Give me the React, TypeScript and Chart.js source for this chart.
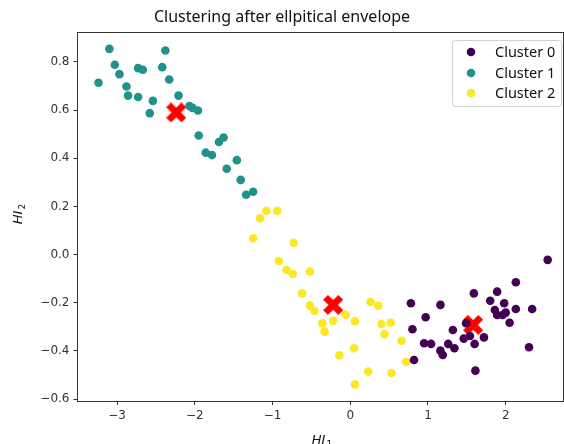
import React, { useEffect, useRef } from 'react';
import { Chart, registerables } from 'chart.js';
Chart.register(...registerables);

const TITLE = 'Clustering after ellpitical envelope';
const SERIES_NAMES = ['Cluster 0', 'Cluster 1', 'Cluster 2'];
const COLORS = ['#440154', '#21918c', '#fde725'];

const cluster0X = [2.54, 2.13, 1.59, 1.89, 1.80, 1.98, 0.78, 1.16, 1.86, 2.13, 2.34, 1.89, 2.00, 1.96, 2.05, 0.97, 0.80, 1.32, 0.95, 1.04, 1.16, 1.19, 1.26, 1.34, 1.46, 1.54, 1.60, 1.72, 1.49, 2.30, 0.82, 1.61];
const cluster0Y = [-0.022, -0.115, -0.161, -0.154, -0.192, -0.202, -0.202, -0.209, -0.230, -0.226, -0.226, -0.251, -0.241, -0.251, -0.283, -0.260, -0.310, -0.313, -0.368, -0.371, -0.399, -0.417, -0.371, -0.389, -0.349, -0.338, -0.371, -0.344, -0.285, -0.385, -0.438, -0.482];

const cluster1X = [-3.10, -3.03, -2.97, -3.24, -2.88, -2.86, -2.73, -2.73, -2.67, -2.38, -2.42, -2.33, -2.54, -2.58, -2.21, -2.07, -1.96, -2.03, -1.95, -1.63, -1.69, -1.86, -1.78, -1.46, -1.59, -1.41, -1.25, -1.34];
const cluster1Y = [0.854, 0.788, 0.749, 0.713, 0.698, 0.660, 0.654, 0.774, 0.767, 0.847, 0.778, 0.727, 0.638, 0.587, 0.660, 0.617, 0.598, 0.609, 0.494, 0.486, 0.467, 0.423, 0.413, 0.392, 0.356, 0.310, 0.261, 0.248];

const cluster2X = [-1.08, -0.94, -1.16, -1.25, -0.73, -0.92, -0.82, -0.74, -0.52, -0.62, -0.52, -0.46, -0.36, -0.33, -0.22, -0.06, 0.06, 0.26, 0.36, 0.40, 0.52, 0.44, 0.66, 0.05, -0.14, 0.72, 0.23, 0.53, 0.06];
const cluster2Y = [0.182, 0.182, 0.151, 0.068, 0.049, -0.027, -0.064, -0.081, -0.071, -0.161, -0.212, -0.233, -0.285, -0.320, -0.275, -0.250, -0.277, -0.197, -0.212, -0.288, -0.283, -0.331, -0.358, -0.389, -0.418, -0.445, -0.486, -0.492, -0.539];

const centersX = [1.58, -2.24, -0.22];
const centersY = [-0.292, 0.590, -0.209];

const X_TICKS = [-3, -2, -1, 0, 1, 2];
const Y_TICKS = [-0.6, -0.4, -0.2, 0.0, 0.2, 0.4, 0.6, 0.8];

const toPts = (xs: number[], ys: number[]) => xs.map((x, i) => ({ x, y: ys[i] }));

function makeXMarker(size: number, color: string) {
  const c = document.createElement('canvas');
  c.width = size;
  c.height = size;
  const ctx = c.getContext('2d')!;
  ctx.translate(size / 2, size / 2);
  ctx.fillStyle = color;
  const w = size * 0.34;
  const L = size * Math.SQRT2 - w;
  ctx.rotate(Math.PI / 4);
  ctx.fillRect(-L / 2, -w / 2, L, w);
  ctx.fillRect(-w / 2, -L / 2, w, L);
  return c;
}

const fmt = (v: number, dec: number) => v.toFixed(dec).replace('-', '\u2212');

export default function App() {
  const ref = useRef<HTMLCanvasElement>(null);
  useEffect(() => {
    document.body.style.margin = '0';
    const marker = makeXMarker(20, '#ff0000');
    const series = [toPts(cluster0X, cluster0Y), toPts(cluster1X, cluster1Y), toPts(cluster2X, cluster2Y)];
    const datasets: any[] = series.map((d, i) => ({
      label: SERIES_NAMES[i],
      data: d,
      backgroundColor: COLORS[i],
      borderColor: COLORS[i],
      borderWidth: 0,
      pointRadius: 4.3,
    }));
    datasets.push({
      label: 'centers',
      data: toPts(centersX, centersY),
      pointStyle: marker,
      pointRadius: 10,
    });

    const extras = {
      id: 'extras',
      afterDraw(chart: any) {
        const { ctx, chartArea: a } = chart;
        ctx.save();
        // frame top/right
        ctx.strokeStyle = '#333';
        ctx.lineWidth = 1;
        ctx.beginPath();
        ctx.moveTo(a.left, a.top + 0.5);
        ctx.lineTo(a.right, a.top + 0.5);
        ctx.moveTo(a.right - 0.5, a.top);
        ctx.lineTo(a.right - 0.5, a.bottom);
        ctx.stroke();

        // legend
        const bx = 452.5, by = 40.5, bw = 109, bh = 66;
        ctx.fillStyle = 'rgba(255,255,255,0.85)';
        ctx.strokeStyle = '#d0d0d0';
        ctx.beginPath();
        ctx.roundRect(bx, by, bw, bh, 3);
        ctx.fill();
        ctx.stroke();
        const rows = [52, 73, 93];
        ctx.font = '14.5px "Noto Sans"';
        ctx.textBaseline = 'middle';
        ctx.textAlign = 'left';
        rows.forEach((ry, i) => {
          ctx.fillStyle = COLORS[i];
          ctx.beginPath();
          ctx.arc(471, ry, 4.3, 0, Math.PI * 2);
          ctx.fill();
          ctx.fillStyle = '#111';
          ctx.fillText(SERIES_NAMES[i], 495, ry + 1);
        });

        // axis labels
        const drawLabel = (sub: string) => {
          ctx.font = 'italic 13px "DejaVu Sans"';
          const w1 = ctx.measureText('HI').width;
          ctx.font = '9px "DejaVu Sans"';
          const w2 = ctx.measureText(sub).width;
          const tot = w1 + w2 + 1;
          ctx.textAlign = 'left';
          ctx.textBaseline = 'alphabetic';
          ctx.fillStyle = '#111';
          ctx.font = 'italic 13px "DejaVu Sans"';
          ctx.fillText('HI', -tot / 2, 5);
          ctx.font = '9px "DejaVu Sans"';
          ctx.fillText(sub, -tot / 2 + w1 + 1, 8);
        };
        ctx.save();
        ctx.translate(322, 439);
        drawLabel('1');
        ctx.restore();
        ctx.save();
        ctx.translate(17, 214);
        ctx.rotate(-Math.PI / 2);
        drawLabel('2');
        ctx.restore();
        ctx.restore();
      },
    };

    const tickFont = { family: '"DejaVu Sans"', size: 12 };
    const chart = new Chart(ref.current!, {
      type: 'scatter',
      data: { datasets },
      plugins: [extras],
      options: {
        animation: false,
        responsive: false,
        events: [],
        layout: { autoPadding: false, padding: { left: 0, right: 0, top: 0, bottom: 0 } },
        plugins: {
          legend: { display: false },
          tooltip: { enabled: false },
          title: {
            display: true,
            text: TITLE,
            color: '#111',
            font: { family: '"Noto Sans"', size: 16, weight: 'normal' },
            padding: { top: 8, bottom: 4.8 },
          },
        },
        scales: {
          x: {
            type: 'linear',
            min: -3.51,
            max: 2.75,
            afterBuildTicks: (s: any) => { s.ticks = X_TICKS.map((v) => ({ value: v })); },
            afterFit: (s: any) => { s.height = 43; s.paddingLeft = 0; s.paddingRight = 0; },
            ticks: { font: tickFont, color: '#333', padding: 4, callback: (v: any) => fmt(Number(v), 0) },
            grid: { display: true, drawOnChartArea: false, drawTicks: true, tickLength: 4, tickColor: '#333' },
            border: { display: true, color: '#333', width: 1 },
          },
          y: {
            type: 'linear',
            min: -0.608,
            max: 0.924,
            afterBuildTicks: (s: any) => { s.ticks = Y_TICKS.map((v) => ({ value: v })); },
            afterFit: (s: any) => { s.width = 77.5; s.paddingTop = 0; s.paddingBottom = 0; },
            ticks: { font: tickFont, color: '#333', padding: 4, callback: (v: any) => fmt(Number(v), 1) },
            grid: { display: true, drawOnChartArea: false, drawTicks: true, tickLength: 4, tickColor: '#333' },
            border: { display: true, color: '#333', width: 1 },
          },
        },
      } as any,
    });
    return () => chart.destroy();
  }, []);
  return (
    <div style={{ position: 'absolute', left: 0, top: 0, width: 564, height: 444 }}>
      <canvas ref={ref} width={564} height={444} />
    </div>
  );
}
